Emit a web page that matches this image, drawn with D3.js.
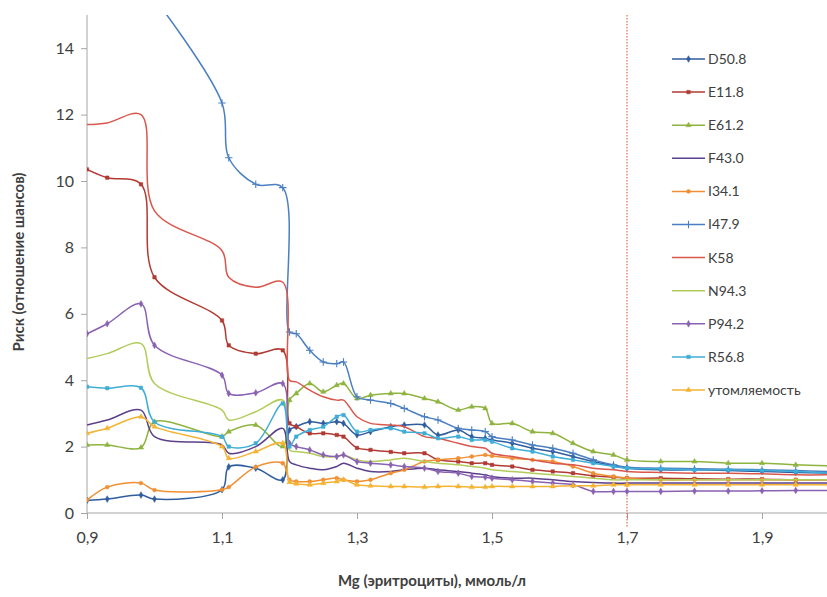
<!DOCTYPE html>
<html>
<head>
<meta charset="utf-8">
<script src="https://cdn.jsdelivr.net/npm/d3@7"></script>
<style>
  body { margin: 0; background: #fff; }
  svg { display: block; font-family: Lato, "Open Sans", sans-serif; }
</style>
</head>
<body>
<svg id="chart" width="827" height="597"></svg>
<script>
// Mg values shared by every series
const mg = [0.90, 0.93, 0.98, 1.00, 1.10, 1.11, 1.15, 1.19, 1.20, 1.21, 1.23, 1.25, 1.27, 1.28,
    1.30, 1.32, 1.35, 1.37, 1.40, 1.42, 1.45, 1.47, 1.49, 1.50, 1.53, 1.56, 1.59,
    1.62, 1.65, 1.68, 1.70, 1.75, 1.80, 1.85, 1.90, 1.95, 2.00];

const d508 = [0.38, 0.42, 0.54, 0.42, 0.70, 1.39, 1.35, 1.00, 2.50, 2.60, 2.75, 2.70, 2.75, 2.70,
    2.35, 2.45, 2.60, 2.65, 2.65, 2.35, 2.50, 2.30, 2.25, 2.20, 2.10, 1.95, 1.85,
    1.70, 1.55, 1.42, 1.35, 1.30, 1.30, 1.28, 1.25, 1.22, 1.20];
const e118 = [10.35, 10.1, 9.9, 7.1, 5.8, 5.05, 4.8, 4.9, 2.7, 2.6, 2.4, 2.4, 2.35, 2.3,
    1.96, 1.9, 1.84, 1.8, 1.8, 1.6, 1.55, 1.5, 1.5, 1.45, 1.4, 1.3, 1.25,
    1.2, 1.12, 1.08, 1.05, 1.05, 1.03, 1.02, 1.02, 1.0, 1.0];
const e612 = [2.05, 2.05, 1.97, 2.75, 2.3, 2.45, 2.65, 2.0, 3.4, 3.6, 3.9, 3.65, 3.85, 3.9,
    3.45, 3.55, 3.6, 3.6, 3.45, 3.35, 3.1, 3.2, 3.15, 2.7, 2.7, 2.45, 2.4,
    2.1, 1.85, 1.75, 1.6, 1.55, 1.55, 1.5, 1.5, 1.45, 1.42];
const f430 = [2.65, 2.8, 3.1, 2.3, 2.05, 1.8, 2.0, 2.55, 1.55, 1.45, 1.35, 1.3, 1.4, 1.5,
    1.35, 1.25, 1.25, 1.3, 1.35, 1.3, 1.25, 1.2, 1.15, 1.1, 1.05, 1.05, 1.0,
    0.95, 0.92, 0.9, 0.9, 0.9, 0.9, 0.9, 0.9, 0.9, 0.9];
const i341 = [0.39, 0.78, 0.9, 0.69, 0.7, 0.78, 1.39, 1.5, 1.0, 0.95, 0.95, 1.0, 1.05, 1.0,
    0.95, 1.0, 1.2, 1.3, 1.55, 1.6, 1.65, 1.7, 1.75, 1.72, 1.65, 1.6, 1.55,
    1.4, 1.2, 1.1, 1.05, 1.0, 1.0, 1.0, 1.0, 1.0, 1.0];
const i479 = [null, null, null, 15.5, 12.35, 10.7, 9.9, 9.8, 5.45, 5.4, 4.9, 4.55, 4.5, 4.55,
    3.5, 3.4, 3.3, 3.15, 2.9, 2.8, 2.55, 2.5, 2.45, 2.3, 2.2, 2.05, 1.95,
    1.8, 1.6, 1.45, 1.38, 1.35, 1.33, 1.32, 1.3, 1.28, 1.25];
const k58 = [11.7, 11.75, 12.0, 9.1, 7.9, 7.1, 6.8, 6.95, 4.0, 3.95, 3.7, 3.5, 3.4, 3.4,
    2.9, 2.7, 2.65, 2.6, 2.3, 2.25, 2.1, 2.0, 1.95, 1.8, 1.7, 1.6, 1.5,
    1.45, 1.35, 1.3, 1.25, 1.22, 1.2, 1.2, 1.18, 1.15, 1.15];
const n943 = [4.65, 4.8, 5.1, 3.9, 3.1, 2.8, 3.05, 3.4, 1.9, 1.85, 1.8, 1.7, 1.7, 1.75,
    1.6, 1.55, 1.6, 1.65, 1.55, 1.5, 1.45, 1.4, 1.35, 1.3, 1.25, 1.2, 1.15,
    1.1, 1.05, 1.0, 1.0, 1.0, 1.0, 1.0, 1.0, 1.0, 1.0];
const p942 = [5.4, 5.7, 6.3, 5.05, 4.15, 3.6, 3.62, 3.9, 2.1, 2.0, 1.9, 1.75, 1.7, 1.75,
    1.55, 1.5, 1.45, 1.4, 1.35, 1.25, 1.2, 1.1, 1.08, 1.05, 1.0, 0.95, 0.9,
    0.85, 0.65, 0.65, 0.65, 0.65, 0.66, 0.66, 0.67, 0.68, 0.68];
const r568 = [3.8, 3.76, 3.77, 2.74, 2.3, 2.0, 2.1, 3.3, 2.0, 2.3, 2.5, 2.6, 2.9, 2.95,
    2.45, 2.5, 2.55, 2.45, 2.4, 2.25, 2.3, 2.2, 2.2, 2.15, 1.95, 1.85, 1.7,
    1.6, 1.5, 1.4, 1.35, 1.33, 1.3, 1.3, 1.28, 1.25, 1.2];
const fatigue = [2.4, 2.55, 2.9, 2.6, 2.0, 1.65, 1.85, 2.1, 0.93, 0.88, 0.85, 0.9, 0.95, 1.0,
    0.85, 0.82, 0.8, 0.8, 0.78, 0.8, 0.8, 0.78, 0.78, 0.8, 0.8, 0.8, 0.8,
    0.82, 0.82, 0.85, 0.85, 0.85, 0.85, 0.85, 0.85, 0.85, 0.85];

const names = ["D50.8", "E11.8", "E61.2", "F43.0", "I34.1", "I47.9", "K58", "N94.3", "P94.2", "R56.8", "утомляемость"];
const values = [d508, e118, e612, f430, i341, i479, k58, n943, p942, r568, fatigue];
const colors = ["#2f5d9e", "#b13a33", "#8fb33f", "#5c3f8a", "#f08f33", "#4a7fc1", "#d9574c", "#b2cc5a", "#8a62b2", "#3fadd6", "#f5b333"];
const markers = ["diamond", "square", "triangle", "none", "circle", "plus", "none", "none", "diamond", "square", "triangle"];

const yTicks = [0, 2, 4, 6, 8, 10, 12, 14];
const xTicks = [0.9, 1.1, 1.3, 1.5, 1.7, 1.9];
const cutoff = 1.7;

const series = names.map((name, i) => ({
    name: name,
    color: colors[i],
    marker: markers[i],
    points: mg.map((x, j) => ({ x: x, y: values[i][j] }))
}));

const width = 827, height = 597;
const plotLeft = 87, plotRight = 829.5, plotTop = 15, plotBottom = 513;

const x = d3.scaleLinear().domain([0.9, 2.0]).range([plotLeft, plotRight]);
const y = d3.scaleLinear().domain([0, 15]).range([plotBottom, plotTop]);

const svg = d3.select("#chart");
const fmt = d => String(d).replace(".", ",");

svg.append("defs").append("clipPath").attr("id", "plot")
    .append("rect").attr("x", plotLeft).attr("y", plotTop)
    .attr("width", width - plotLeft).attr("height", plotBottom - plotTop + 4);

// axes
const yAxis = svg.append("g")
    .attr("transform", `translate(${plotLeft},0)`)
    .call(d3.axisLeft(y).tickValues(yTicks).tickSize(6).tickPadding(7));
yAxis.select(".domain").attr("d", `M0,${plotTop}V${plotBottom}`);

const xAxis = svg.append("g")
    .attr("transform", `translate(0,${plotBottom})`)
    .call(d3.axisBottom(x).tickValues(xTicks).tickFormat(fmt).tickSize(6).tickPadding(13));
xAxis.select(".domain").attr("d", `M${plotLeft},0H${width}`);

svg.selectAll(".domain, .tick line").attr("stroke", "#a6a6a6").attr("stroke-width", 1);
svg.selectAll(".tick text").attr("fill", "#404040").style("font-size", "16px")
    .style("font-family", "Lato, 'Open Sans', sans-serif");

// cutoff line
svg.append("line")
    .attr("x1", x(cutoff)).attr("x2", x(cutoff))
    .attr("y1", plotTop).attr("y2", plotBottom + 14)
    .attr("stroke", "#e0603a").attr("stroke-width", 1.1)
    .attr("stroke-dasharray", "1.5,1.5");

const line = d3.line()
    .defined(d => d.y != null)
    .x(d => x(d.x))
    .y(d => y(d.y))
    .curve(d3.curveCatmullRom.alpha(0.5));

const symbolOf = {
    diamond: d3.symbol(d3.symbolDiamond, 13),
    square: d3.symbol(d3.symbolSquare, 12),
    triangle: d3.symbol(d3.symbolTriangle, 12),
    circle: d3.symbol(d3.symbolCircle, 12),
    plus: d3.symbol(d3.symbolPlus, 20)
};

const plot = svg.append("g").attr("clip-path", "url(#plot)");

const g = plot.selectAll("g.series")
    .data(series)
    .join("g")
    .attr("class", "series");

g.append("path")
    .attr("d", d => line(d.points))
    .attr("fill", "none")
    .attr("stroke", d => d.color)
    .attr("stroke-width", 1.5);

g.each(function(s) {
    if (s.marker === "none") return;
    d3.select(this).selectAll("path.m")
        .data(s.points.filter(p => p.y != null && p.y <= 15))
        .join("path")
        .attr("class", "m")
        .attr("transform", p => `translate(${x(p.x)},${y(p.y)})`)
        .attr("d", symbolOf[s.marker]())
        .attr("fill", s.marker === "plus" ? "none" : s.color)
        .attr("stroke", s.color)
        .attr("stroke-width", s.marker === "plus" ? 1.1 : 0.5);
});

// legend
const legend = svg.append("g")
    .selectAll("g")
    .data(series)
    .join("g")
    .attr("transform", (d, i) => `translate(672,${59 + i * 33.1})`);

legend.append("line")
    .attr("x1", 0).attr("x2", 33)
    .attr("stroke", d => d.color).attr("stroke-width", 1.5);

legend.filter(d => d.marker !== "none").append("path")
    .attr("transform", "translate(16.5,0)")
    .attr("d", d => symbolOf[d.marker]())
    .attr("fill", d => d.marker === "plus" ? "none" : d.color)
    .attr("stroke", d => d.color)
    .attr("stroke-width", d => d.marker === "plus" ? 1.1 : 0.5);

legend.append("text")
    .attr("x", 36)
    .attr("dy", "0.35em")
    .attr("fill", "#404040")
    .style("font-size", "14px")
    .text(d => d.name);

// axis titles
svg.append("text")
    .attr("transform", "translate(24,262) rotate(-90)")
    .attr("text-anchor", "middle")
    .attr("fill", "#404040")
    .style("font-size", "15px")
    .style("font-weight", "bold")
    .text("Риск (отношение шансов)");

svg.append("text")
    .attr("x", 432)
    .attr("y", 586)
    .attr("text-anchor", "middle")
    .attr("fill", "#404040")
    .style("font-size", "15px")
    .style("font-weight", "bold")
    .text("Mg (эритроциты), ммоль/л");
</script>
</body>
</html>
